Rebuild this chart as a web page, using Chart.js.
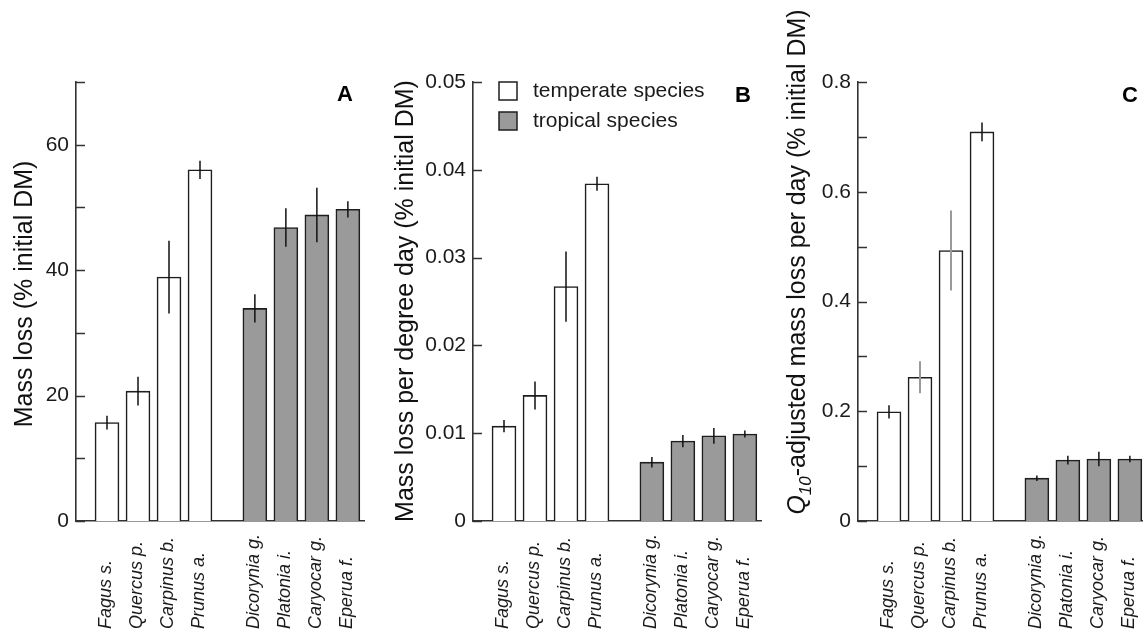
<!DOCTYPE html>
<html>
<head>
<meta charset="utf-8">
<script src="https://cdn.jsdelivr.net/npm/chart.js@4.4.1/dist/chart.umd.min.js"></script>
<style>
  html, body { margin: 0; padding: 0; background: #ffffff; overflow: hidden; width: 1143px; height: 632px; }
  canvas { position: absolute; top: 0; }
</style>
</head>
<body>
<canvas id="chartA" width="380" height="632" style="left:0px"></canvas>
<canvas id="chartB" width="385" height="632" style="left:380px"></canvas>
<canvas id="chartC" width="385" height="632" style="left:765px"></canvas>
<script>
// ---------------- data ----------------
const species = ['Fagus s.', 'Quercus p.', 'Carpinus b.', 'Prunus a.', 'Dicorynia g.', 'Platonia i.', 'Caryocar g.', 'Eperua f.'];
const climate = ['temperate', 'temperate', 'temperate', 'temperate', 'tropical', 'tropical', 'tropical', 'tropical'];
const legendLabels = ['temperate species', 'tropical species'];

const massLoss      = [15.7, 20.7, 38.9, 56.0, 33.9, 46.8, 48.8, 49.7];
const massLossErr   = [1.1, 2.3, 5.8, 1.45, 2.25, 3.05, 4.35, 1.3];

const perDegreeDay    = [0.0108, 0.0143, 0.0267, 0.0384, 0.0067, 0.0091, 0.0097, 0.0099];
const perDegreeDayErr = [0.0007, 0.0016, 0.0040, 0.0008, 0.0006, 0.0007, 0.0009, 0.0004];

const q10Adjusted    = [0.199, 0.262, 0.493, 0.709, 0.078, 0.111, 0.113, 0.113];
const q10AdjustedErr = [0.012, 0.029, 0.073, 0.017, 0.005, 0.008, 0.013, 0.006];

const tickLabelsA = [0, 20, 40, 60];
const tickLabelsB = [0, 0.01, 0.02, 0.03, 0.04, 0.05];
const tickLabelsC = [0, 0.2, 0.4, 0.6, 0.8];

// ---------------- helpers ----------------
const FONT = '"Liberation Sans", Arial, Helvetica, sans-serif';
Chart.defaults.font.family = FONT;
Chart.defaults.color = '#1a1a1a';

// bar slot along the x axis: temperate group, gap, tropical group
function slot(i) { return i + 1 + (climate[i] === 'tropical' ? 0.77 : 0); }

const fillFor = { temperate: '#ffffff', tropical: '#9a9a9a' };

const decor = {
  id: 'decor',
  afterDatasetsDraw(chart, args, o) {
    const ctx = chart.ctx;
    const ys = chart.scales.y;
    const area = chart.chartArea;
    // error bars
    const meta = chart.getDatasetMeta(0);
    meta.data.forEach((bar, i) => {
      const v = o.values[i], e = o.errors[i];
      ctx.save();
      ctx.strokeStyle = (o.errColors && o.errColors[i]) || '#111';
      ctx.lineWidth = (o.errWidths && o.errWidths[i]) || 1.5;
      ctx.beginPath();
      ctx.moveTo(bar.x, ys.getPixelForValue(v + e));
      ctx.lineTo(bar.x, ys.getPixelForValue(v - e));
      ctx.stroke();
      ctx.restore();
    });
    // inward tick marks
    ctx.save();
    ctx.strokeStyle = '#333';
    ctx.lineWidth = 1.5;
    ys.ticks.forEach(t => {
      const y = Math.round(ys.getPixelForValue(t.value)) + 0.5;
      ctx.beginPath();
      ctx.moveTo(area.left, y);
      ctx.lineTo(area.left + 9, y);
      ctx.stroke();
    });
    ctx.restore();
  },
  afterDraw(chart, args, o) {
    const ctx = chart.ctx;
    const meta = chart.getDatasetMeta(0);
    // rotated italic species labels
    ctx.save();
    ctx.fillStyle = '#1a1a1a';
    ctx.font = 'italic 18px ' + FONT;
    ctx.textAlign = 'left';
    ctx.textBaseline = 'middle';
    meta.data.forEach((bar, i) => {
      ctx.save();
      ctx.translate(bar.x - 1, 629);
      ctx.rotate(-Math.PI / 2);
      ctx.fillText(species[i], 0, 0);
      ctx.restore();
    });
    ctx.restore();
    // y-axis title (possibly with sub-script pieces)
    ctx.save();
    ctx.fillStyle = '#111';
    ctx.textBaseline = 'alphabetic';
    ctx.textAlign = 'left';
    let total = 0;
    o.title.forEach(p => { ctx.font = p.font; total += ctx.measureText(p.text).width; });
    ctx.translate(o.titleX, o.titleY + total / 2);
    ctx.rotate(-Math.PI / 2);
    let cx = 0;
    o.title.forEach(p => {
      ctx.font = p.font;
      ctx.fillText(p.text, cx, p.dy || 0);
      cx += ctx.measureText(p.text).width;
    });
    ctx.restore();
    // panel letter
    ctx.save();
    ctx.fillStyle = '#000';
    ctx.font = 'bold 22px ' + FONT;
    ctx.textAlign = 'center';
    ctx.textBaseline = 'middle';
    ctx.fillText(o.letter, o.letterX, o.letterY);
    ctx.restore();
    // legend
    if (o.legend) {
      ctx.save();
      const L = o.legend;
      ['temperate', 'tropical'].forEach((c, k) => {
        const top = L.y + k * L.step;
        ctx.fillStyle = fillFor[c];
        ctx.fillRect(L.x, top, 18, 18);
        ctx.strokeStyle = '#1e1e1e';
        ctx.lineWidth = 1.5;
        ctx.strokeRect(L.x, top, 18, 18);
        ctx.fillStyle = '#1a1a1a';
        ctx.font = '21px ' + FONT;
        ctx.textAlign = 'left';
        ctx.textBaseline = 'middle';
        ctx.fillText(legendLabels[k], L.x + 34, top + 9.5);
      });
      ctx.restore();
    }
  }
};

function tickFormatter(labels) {
  return function (value) {
    const hit = labels.find(l => Math.abs(l - value) < 1e-9);
    if (hit === undefined) return '';
    return String(+hit.toFixed(4));
  };
}

function makePanel(id, cfg) {
  const points = cfg.values.map((v, i) => ({ x: slot(i), y: v }));
  return new Chart(document.getElementById(id), {
    type: 'bar',
    data: {
      datasets: [{
        data: points,
        backgroundColor: climate.map(c => fillFor[c]),
        borderColor: '#1e1e1e',
        borderWidth: 1.6,
        barThickness: 24
      }]
    },
    options: {
      responsive: false,
      animation: false,
      events: [],
      layout: { padding: { top: 82, right: cfg.padRight, left: 0, bottom: 0 } },
      plugins: {
        legend: { display: false },
        tooltip: { enabled: false },
        decor: {
          values: cfg.values,
          errors: cfg.errors,
          errColors: cfg.errColors,
          errWidths: cfg.errWidths,
          title: cfg.title,
          titleX: cfg.titleX,
          titleY: cfg.titleY,
          letter: cfg.letter,
          letterX: cfg.letterX,
          letterY: cfg.letterY,
          legend: cfg.legend
        }
      },
      scales: {
        x: {
          type: 'linear',
          min: 0,
          max: 9.3,
          offset: false,
          grid: { display: false, drawTicks: false },
          ticks: { display: false },
          border: { display: true, color: '#333', width: 1.6 },
          afterFit: s => { s.height = 111; }
        },
        y: {
          min: 0,
          max: cfg.max,
          grid: { display: false, drawTicks: false },
          border: { display: true, color: '#333', width: 1.6 },
          ticks: {
            stepSize: cfg.step,
            autoSkip: false,
            padding: 7,
            color: '#1a1a1a',
            font: { size: 21, family: FONT },
            callback: tickFormatter(cfg.tickLabels)
          },
          afterFit: s => { s.width = cfg.axisWidth; }
        }
      }
    },
    plugins: [decor]
  });
}

makePanel('chartA', {
  values: massLoss, errors: massLossErr,
  max: 70, step: 10, tickLabels: tickLabelsA,
  axisWidth: 76, padRight: 380 - 76 - 288.3,
  title: [{ text: 'Mass loss (% initial DM)', font: '25px ' + FONT }],
  titleX: 32, titleY: 294,
  letter: 'A', letterX: 345, letterY: 95
});

makePanel('chartB', {
  values: perDegreeDay, errors: perDegreeDayErr,
  max: 0.05, step: 0.01, tickLabels: tickLabelsB,
  axisWidth: 93, padRight: 385 - 93 - 288.3,
  title: [{ text: 'Mass loss per degree day (% initial DM)', font: '25px ' + FONT }],
  titleX: 33, titleY: 301,
  letter: 'B', letterX: 363, letterY: 95.5,
  legend: { x: 119, y: 82, step: 30 }
});

makePanel('chartC', {
  values: q10Adjusted, errors: q10AdjustedErr,
  errColors: ['#111', '#9a9a9a', '#9a9a9a', '#111', '#111', '#111', '#111', '#111'],
  errWidths: [1.5, 2, 2, 1.5, 1.5, 1.5, 1.5, 1.5],
  max: 0.8, step: 0.1, tickLabels: tickLabelsC,
  axisWidth: 93, padRight: 385 - 93 - 288.3,
  title: [
    { text: 'Q', font: 'italic 25px ' + FONT },
    { text: '10', font: 'italic 17px ' + FONT, dy: 6 },
    { text: '-adjusted mass loss per day (% initial DM)', font: '25px ' + FONT }
  ],
  titleX: 40, titleY: 262,
  letter: 'C', letterX: 365, letterY: 96
});
</script>
</body>
</html>
